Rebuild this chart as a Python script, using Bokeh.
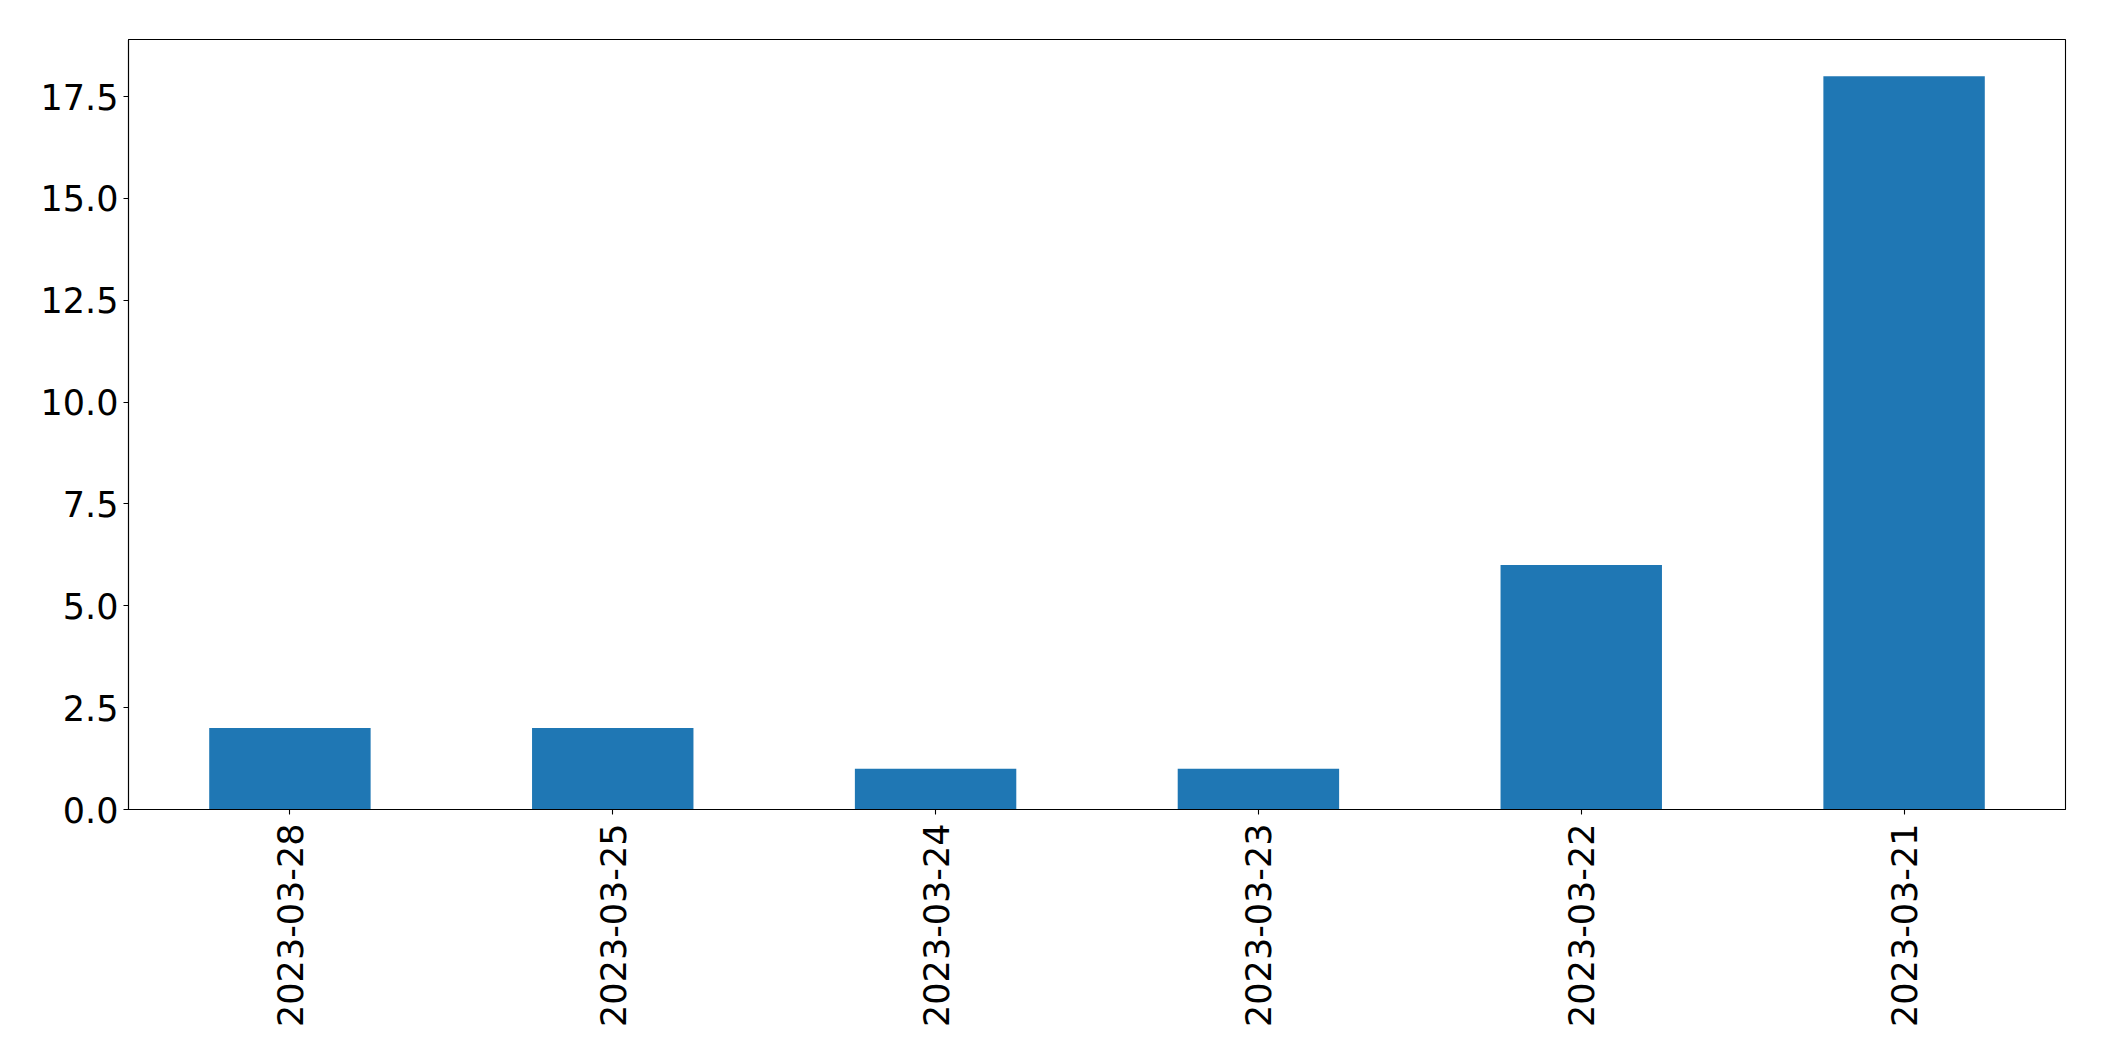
import math
from bokeh.plotting import figure
from bokeh.models import ColumnDataSource, FixedTicker, NumeralTickFormatter, Range1d, FactorRange
from bokeh.embed import file_html
from bokeh.resources import INLINE

dates = ["2023-03-28", "2023-03-25", "2023-03-24", "2023-03-23", "2023-03-22", "2023-03-21"]
counts = [2, 2, 1, 1, 6, 18]
y_ticks = [0.0, 2.5, 5.0, 7.5, 10.0, 12.5, 15.0, 17.5]

source = ColumnDataSource(data=dict(dates=dates, counts=counts))

p = figure(
    x_range=FactorRange(factors=dates, range_padding=0),
    y_range=Range1d(0, 18.9),
    width=2088, height=1045,
    output_backend="svg", toolbar_location=None,
    min_border_left=128, min_border_right=23, min_border_top=39, min_border_bottom=236,
)
p.vbar(x="dates", top="counts", width=0.5, source=source, color="#1f77b4", line_color=None)

p.xgrid.visible = False
p.ygrid.visible = False
p.outline_line_color = "black"
p.outline_line_width = 1.1
p.outline_line_alpha = 1

font = "DejaVu Sans"
for ax in (p.xaxis[0], p.yaxis[0]):
    ax.axis_line_color = "black"
    ax.axis_line_width = 1.1
    ax.major_tick_line_color = "black"
    ax.major_tick_line_width = 1.1
    ax.major_tick_out = 5
    ax.major_tick_in = 0
    ax.minor_tick_line_color = None
    ax.major_label_text_font = font
    ax.major_label_text_font_size = "35px"
    ax.major_label_text_color = "black"
    ax.major_label_standoff = 5

p.xaxis[0].major_label_standoff = 9
p.yaxis[0].ticker = FixedTicker(ticks=y_ticks)
p.yaxis[0].formatter = NumeralTickFormatter(format="0.0")
p.xaxis[0].major_label_orientation = math.pi / 2

open("out.html", "w").write(file_html(p, INLINE))
